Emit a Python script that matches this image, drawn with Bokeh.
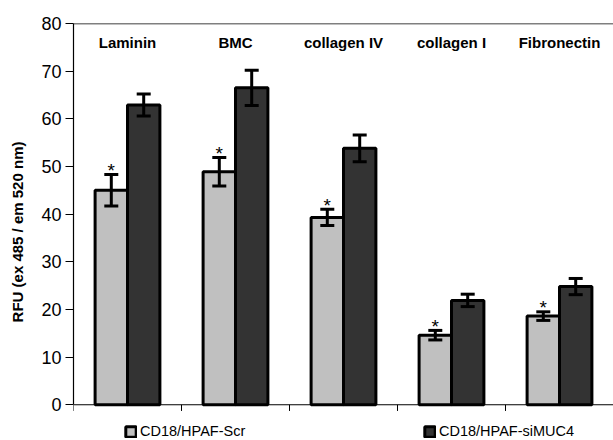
from bokeh.plotting import figure
from bokeh.models import (ColumnDataSource, Whisker, TeeHead, FixedTicker, Legend,
                          LegendItem, Span)
from bokeh.core.properties import value
from bokeh.embed import file_html
from bokeh.resources import INLINE

# ---- data ----
categories = ["Laminin", "BMC", "collagen IV", "collagen I", "Fibronectin"]
scr_values = [45.0, 48.9, 39.3, 14.6, 18.6]
scr_errors = [3.3, 3.0, 1.7, 1.0, 0.9]
simuc4_values = [62.9, 66.5, 53.8, 21.9, 24.8]
simuc4_errors = [2.3, 3.7, 2.8, 1.3, 1.7]
series_names = ["CD18/HPAF-Scr", "CD18/HPAF-siMUC4"]
y_ticks = [0, 10, 20, 30, 40, 50, 60, 70, 80]
y_label = "RFU (ex 485 / em 520 nm)"

LIGHT = "#c0c0c0"
DARK = "#333333"
FONT = "Liberation Sans"

n = len(categories)
centers = [i + 0.5 for i in range(n)]
bounds = list(range(n + 1))
bar_w = 0.30

src_scr = ColumnDataSource(dict(
    x=[c - bar_w / 2 for c in centers], top=scr_values,
    upper=[v + e for v, e in zip(scr_values, scr_errors)],
    lower=[v - e for v, e in zip(scr_values, scr_errors)],
    star=["*"] * n))
src_mu = ColumnDataSource(dict(
    x=[c + bar_w / 2 for c in centers], top=simuc4_values,
    upper=[v + e for v, e in zip(simuc4_values, simuc4_errors)],
    lower=[v - e for v, e in zip(simuc4_values, simuc4_errors)]))
src_lab = ColumnDataSource(dict(x=centers, name=categories))

# frame: left 73, top 23, bottom at canvas edge; y=0 sits ~36px above bottom
p = figure(width=613, height=440, x_range=(0, n), y_range=(-7.5, 80),
           output_backend="svg", toolbar_location=None,
           min_border_left=73, min_border_top=23, min_border_right=0,
           min_border_bottom=0)
p.outline_line_color = None
p.xgrid.visible = False
p.ygrid.visible = False
p.xaxis.visible = False
p.background_fill_color = "white"
p.border_fill_color = "white"

r_scr = p.vbar(x="x", top="top", width=bar_w, bottom=0, source=src_scr,
               fill_color=LIGHT, line_color="black", line_width=3)
r_mu = p.vbar(x="x", top="top", width=bar_w, bottom=0, source=src_mu,
              fill_color=DARK, line_color="black", line_width=3)

for src in (src_scr, src_mu):
    w = Whisker(base="x", upper="upper", lower="lower", source=src,
                line_color="black", line_width=3, level="overlay",
                upper_head=TeeHead(size=14, line_width=3, line_color="black"),
                lower_head=TeeHead(size=14, line_width=3, line_color="black"))
    p.add_layout(w)

p.text(x="x", y="upper", text="star", source=src_scr,
       text_font=value(FONT), text_font_size="19px", text_align="center",
       text_baseline="middle", y_offset=-4, text_color="black")

p.text(x="x", y=76, text="name", source=src_lab,
       text_font=value(FONT), text_font_style="bold", text_font_size="15px",
       text_align="center", text_baseline="middle", text_color="black")

# frame top line and baseline (x axis) with category-boundary ticks
p.add_layout(Span(location=80, dimension="width", line_color="black", line_width=1.5))
p.add_layout(Span(location=0, dimension="width", line_color="black", line_width=1))
p.segment(x0=bounds, y0=[0] * len(bounds), x1=bounds, y1=[-1.3] * len(bounds),
          line_color="black", line_width=1)

# y axis
ya = p.yaxis[0]
ya.bounds = (0, 80)
ya.ticker = FixedTicker(ticks=y_ticks)
ya.minor_tick_line_color = None
ya.major_tick_in = 0
ya.major_tick_out = 8
ya.major_label_standoff = 4
ya.major_label_text_font = FONT
ya.major_label_text_font_size = "18px"
ya.major_label_text_color = "black"
ya.axis_line_color = "black"
ya.axis_line_width = 1.2
ya.major_tick_line_color = "black"
ya.axis_label = y_label
ya.axis_label_text_font = FONT
ya.axis_label_text_font_size = "15px"
ya.axis_label_text_font_style = "bold"
ya.axis_label_text_color = "black"
ya.axis_label_standoff = 12

# legends (two separated items, below the baseline inside the frame)
common = dict(orientation="horizontal", glyph_width=13, glyph_height=13,
              label_standoff=3, padding=0, margin=0, border_line_color=None,
              background_fill_alpha=0, label_text_font=FONT,
              label_text_font_size="14.5px", label_text_color="black",
              label_height=13)
leg1 = Legend(items=[LegendItem(label=series_names[0], renderers=[r_scr])],
              location=(51, 1), **common)
leg2 = Legend(items=[LegendItem(label=series_names[1], renderers=[r_mu])],
              location=(350, 1), **common)
p.add_layout(leg1)
p.add_layout(leg2)

open("out.html", "w").write(file_html(p, INLINE))
